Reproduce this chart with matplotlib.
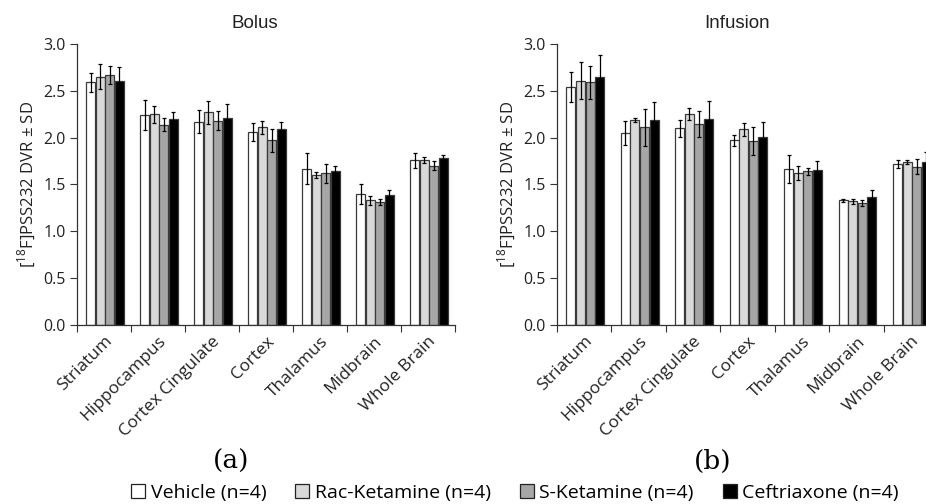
import matplotlib
matplotlib.use('Agg')
import matplotlib.pyplot as plt
from matplotlib.patches import Patch
import numpy as np

regions = ['Striatum', 'Hippocampus', 'Cortex Cingulate', 'Cortex', 'Thalamus', 'Midbrain', 'Whole Brain']
groups = ['Vehicle (n=4)', 'Rac-Ketamine (n=4)', 'S-Ketamine (n=4)', 'Ceftriaxone (n=4)']

# bolus: mean / sd per group
bolus_vehicle = [2.59, 2.24, 2.17, 2.06, 1.67, 1.40, 1.76]
bolus_vehicle_sd = [0.10, 0.16, 0.125, 0.095, 0.17, 0.11, 0.08]
bolus_rac = [2.65, 2.25, 2.27, 2.11, 1.60, 1.33, 1.76]
bolus_rac_sd = [0.135, 0.09, 0.125, 0.07, 0.03, 0.05, 0.03]
bolus_s = [2.67, 2.14, 2.18, 1.97, 1.62, 1.31, 1.70]
bolus_s_sd = [0.10, 0.065, 0.10, 0.12, 0.10, 0.03, 0.05]
bolus_ceft = [2.61, 2.20, 2.21, 2.09, 1.64, 1.39, 1.78]
bolus_ceft_sd = [0.14, 0.07, 0.15, 0.08, 0.055, 0.055, 0.03]

# infusion
inf_vehicle = [2.54, 2.05, 2.10, 1.97, 1.67, 1.33, 1.72]
inf_vehicle_sd = [0.16, 0.13, 0.09, 0.06, 0.15, 0.02, 0.045]
inf_rac = [2.61, 2.19, 2.25, 2.09, 1.62, 1.32, 1.74]
inf_rac_sd = [0.20, 0.02, 0.065, 0.07, 0.075, 0.03, 0.02]
inf_s = [2.59, 2.11, 2.15, 1.96, 1.64, 1.30, 1.69]
inf_s_sd = [0.18, 0.20, 0.14, 0.15, 0.04, 0.03, 0.08]
inf_ceft = [2.65, 2.19, 2.20, 2.01, 1.65, 1.37, 1.74]
inf_ceft_sd = [0.23, 0.19, 0.19, 0.16, 0.10, 0.07, 0.11]

colors = ['white', '#d9d9d9', '#a6a6a6', 'black']
font = 'Open Sans'

fig = plt.figure(figsize=(9.26, 5.04), dpi=100)


def panel(ax, means, sds):
    x = np.arange(len(regions))
    w = 0.176
    for i in range(4):
        ax.bar(x + (i - 1.5) * w + 0.02, means[i], w * 0.94, color=colors[i],
               edgecolor='#3a3a3a', linewidth=0.9, zorder=2)
        ax.errorbar(x + (i - 1.5) * w + 0.02, means[i], yerr=sds[i], fmt='none',
                    ecolor='black', elinewidth=0.9, capsize=1.6, capthick=0.9, zorder=3)
    ax.set_xlim(-0.5, len(regions) - 0.5)
    ax.set_ylim(0, 3.0)
    ax.set_yticks(np.arange(0, 3.01, 0.5))
    ax.set_yticklabels(['%.1f' % v for v in np.arange(0, 3.01, 0.5)], fontsize=11.5, family=font, color='#222222')
    ax.set_xticks(np.arange(-0.5, len(regions), 1.0))
    ax.set_xticklabels([])
    ax.set_xticks(x, minor=True)
    ax.set_xticklabels(regions, minor=True, rotation=45, ha='right', rotation_mode='anchor',
                       fontsize=12.5, family=font, color='#222222')
    ax.tick_params(axis='x', which='minor', length=0, pad=6)
    ax.tick_params(axis='x', which='major', length=5, direction='out', color='#333333')
    ax.tick_params(axis='y', length=5, direction='out', color='#333333', pad=3)
    for s in ['top', 'right']:
        ax.spines[s].set_visible(False)
    for s in ['left', 'bottom']:
        ax.spines[s].set_color('#333333')
        ax.spines[s].set_linewidth(0.9)
    ax.set_ylabel('[$^{\\mathregular{18}}$F]PSS232 DVR ± SD', fontsize=12, family=font,
                  color='#222222', labelpad=5)


ax1 = fig.add_axes([77 / 926, 179 / 504, 378 / 926, 281 / 504])
panel(ax1, [bolus_vehicle, bolus_rac, bolus_s, bolus_ceft],
      [bolus_vehicle_sd, bolus_rac_sd, bolus_s_sd, bolus_ceft_sd])
ax2 = fig.add_axes([557 / 926, 179 / 504, 381 / 926, 281 / 504])
panel(ax2, [inf_vehicle, inf_rac, inf_s, inf_ceft],
      [inf_vehicle_sd, inf_rac_sd, inf_s_sd, inf_ceft_sd])

fig.text(255 / 926, 1 - 23 / 504, 'Bolus', ha='center', va='center', fontsize=13.5,
         family='Liberation Sans', color='#222222')
fig.text(737 / 926, 1 - 23 / 504, 'Infusion', ha='center', va='center', fontsize=13.5,
         family='Liberation Sans', color='#222222')

fig.text(231 / 926, 1 - 461 / 504, '(a)', ha='center', va='center', fontsize=19,
         family='DejaVu Serif', color='black')
fig.text(713 / 926, 1 - 461 / 504, '(b)', ha='center', va='center', fontsize=19,
         family='DejaVu Serif', color='black')

handles = [Patch(facecolor=c, edgecolor='#222222', linewidth=0.9) for c in colors]
fig.legend(handles, groups, loc='center', bbox_to_anchor=(515 / 926, 1 - 493 / 504), ncol=4,
           frameon=False, handlelength=0.7, handleheight=0.7, handletextpad=0.3,
           columnspacing=1.5, prop={'family': font, 'size': 14})

fig.savefig('out.png', dpi=100)
